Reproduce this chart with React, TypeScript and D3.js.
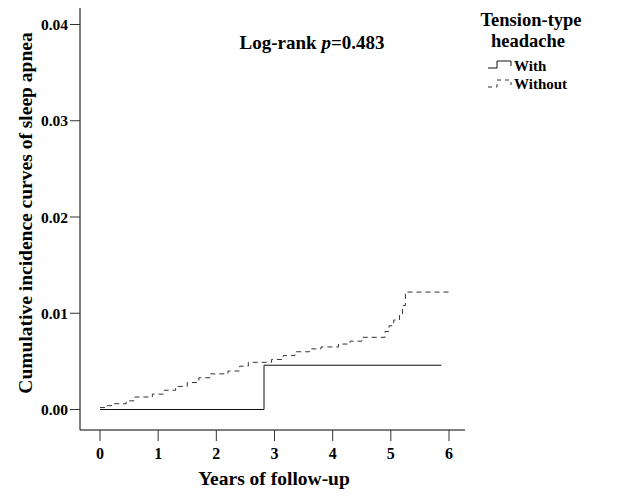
import * as d3 from "d3";

const yTicks = [0, 0.01, 0.02, 0.03, 0.04];
const xTicks = [0, 1, 2, 3, 4, 5, 6];

// [years, cumulative incidence]
const withTTH: [number, number][] = [
  [0, 0],
  [2.82, 0.0046],
  [5.87, 0.0046],
];

const withoutTTH: [number, number][] = [
  [0, 0.0002],
  [0.1, 0.0004],
  [0.25, 0.0006],
  [0.45, 0.0009],
  [0.6, 0.0013],
  [0.9, 0.0016],
  [1.1, 0.002],
  [1.3, 0.0024],
  [1.5, 0.0028],
  [1.7, 0.0033],
  [1.9, 0.0037],
  [2.2, 0.004],
  [2.4, 0.0045],
  [2.55, 0.0049],
  [2.95, 0.0052],
  [3.15, 0.0056],
  [3.35, 0.006],
  [3.6, 0.0063],
  [3.8, 0.0065],
  [4.1, 0.0068],
  [4.3, 0.0071],
  [4.5, 0.0075],
  [4.9, 0.0081],
  [4.97, 0.0087],
  [5.05, 0.0093],
  [5.15, 0.0098],
  [5.2, 0.0108],
  [5.25, 0.0122],
  [6.0, 0.0122],
];

const font = "'Liberation Serif', 'Times New Roman', serif";

export default function App() {
  const width = 625;
  const height = 500;
  const x = d3.scaleLinear([0, 6], [100, 449]);
  const y = d3.scaleLinear([0, 0.04], [409.5, 24.5]);
  const line = d3
    .line<[number, number]>()
    .x((d) => x(d[0]))
    .y((d) => y(d[1]))
    .curve(d3.curveStepAfter);

  return (
    <svg
      width={width}
      height={height}
      style={{ position: "absolute", left: 0, top: 0, background: "#fff" }}
      fontFamily={font}
      fontWeight="bold"
    >
      {/* axes */}
      <line x1={80} x2={80} y1={8} y2={430} stroke="#000" />
      <line x1={80} x2={465} y1={430} y2={430} stroke="#000" />
      {yTicks.map((t) => (
        <g key={t}>
          <line x1={70} x2={80} y1={y(t)} y2={y(t)} stroke="#333" />
          <text x={68} y={y(t) + 5.5} textAnchor="end" fontSize={15.5}>
            {t.toFixed(2)}
          </text>
        </g>
      ))}
      {xTicks.map((t) => (
        <g key={t}>
          <line x1={x(t)} x2={x(t)} y1={430} y2={441} stroke="#333" />
          <text x={x(t)} y={459} textAnchor="middle" fontSize={16}>
            {t}
          </text>
        </g>
      ))}
      <text x={274} y={485} textAnchor="middle" fontSize={19.5}>
        Years of follow-up
      </text>
      <text
        transform="translate(32,213) rotate(-90)"
        textAnchor="middle"
        fontSize={19.5}
      >
        Cumulative incidence curves of sleep apnea
      </text>
      <text x={312} y={49} textAnchor="middle" fontSize={19}>
        Log-rank <tspan fontStyle="italic">p</tspan>=0.483
      </text>

      {/* curves */}
      <path d={line(withTTH) ?? ""} fill="none" stroke="#111" strokeWidth={1} />
      <path
        d={line(withoutTTH) ?? ""}
        fill="none"
        stroke="#333"
        strokeWidth={1}
        strokeDasharray="5,4"
      />

      {/* legend */}
      <text x={531} y={26} textAnchor="middle" fontSize={18.5}>
        Tension-type
      </text>
      <text x={528} y={47} textAnchor="middle" fontSize={18.5}>
        headache
      </text>
      <path d="M488,68 H497 V61 H511 V66" fill="none" stroke="#111" />
      <path
        d="M488,87 H497 V80 H511 V85"
        fill="none"
        stroke="#333"
        strokeDasharray="4,4"
      />
      <text x={514} y={71} fontSize={15}>
        With
      </text>
      <text x={514} y={89} fontSize={15}>
        Without
      </text>
    </svg>
  );
}
